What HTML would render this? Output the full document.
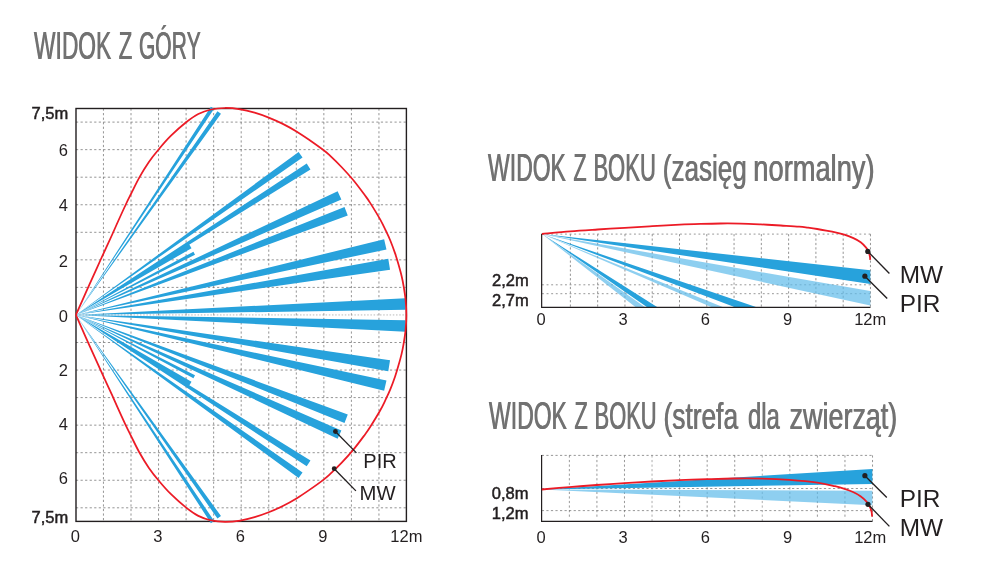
<!DOCTYPE html>
<html lang="pl">
<head>
<meta charset="utf-8">
<title>Widok z góry / Widok z boku</title>
<style>
html,body{margin:0;padding:0;background:#fff;}
body{width:994px;height:571px;overflow:hidden;font-family:"Liberation Sans",sans-serif;}
svg{display:block;will-change:transform;}
</style>
</head>
<body>
<svg width="994" height="571" viewBox="0 0 994 571">
<g id="top-view">
<path d="M103.45,108.5 V521.4 M131,108.5 V521.4 M158.55,108.5 V521.4 M186.1,108.5 V521.4 M213.65,108.5 V521.4 M241.2,108.5 V521.4 M268.75,108.5 V521.4 M296.3,108.5 V521.4 M323.85,108.5 V521.4 M351.4,108.5 V521.4 M378.95,108.5 V521.4 M76,287.4 H406.4 M76,342.5 H406.4 M76,259.85 H406.4 M76,370.05 H406.4 M76,232.3 H406.4 M76,397.6 H406.4 M76,204.75 H406.4 M76,425.15 H406.4 M76,177.2 H406.4 M76,452.7 H406.4 M76,149.65 H406.4 M76,480.25 H406.4 M76,122.1 H406.4 M76,507.8 H406.4" fill="none" stroke="#707070" stroke-width="0.75" stroke-dasharray="2.2 2.35"/>
<path d="M76,314.95 H406.4" fill="none" stroke="#a8a8a8" stroke-width="0.8" stroke-dasharray="1.5 1.7"/>
<rect x="76" y="108.5" width="330.4" height="412.9" fill="none" stroke="#231f20" stroke-width="1.4"/>
<path d="M75.9,314.95 L214.15,108.82 L210.9,106.67 Z M75.9,314.95 L220.97,113.81 L217.44,111.3 Z M75.9,314.95 L302.54,157.43 L298.62,151.94 Z M75.9,314.95 L310.47,169.51 L306.71,163.62 Z M75.9,314.95 L191.51,248.2 L189.3,244.5 Z M75.9,314.95 L195.01,254.65 L193.44,251.66 Z M75.9,314.95 L341.39,199.51 L337.63,191.23 Z M75.9,314.95 L347.77,215.46 L344.51,206.97 Z M75.9,314.95 L386.48,249.5 L384.14,239.24 Z M75.9,314.95 L390.05,269.68 L388.28,258.74 Z M75.9,314.95 L405.5,309.77 L405.5,298.25 Z M75.9,314.95 L214.15,521.08 L210.9,523.23 Z M75.9,314.95 L220.97,516.09 L217.44,518.6 Z M75.9,314.95 L302.54,472.47 L298.62,477.96 Z M75.9,314.95 L310.47,460.39 L306.71,466.28 Z M75.9,314.95 L191.51,381.7 L189.3,385.4 Z M75.9,314.95 L195.01,375.25 L193.44,378.24 Z M75.9,314.95 L341.39,430.39 L337.63,438.67 Z M75.9,314.95 L347.77,414.44 L344.51,422.93 Z M75.9,314.95 L386.48,380.4 L384.14,390.66 Z M75.9,314.95 L390.05,360.22 L388.28,371.16 Z M75.9,314.95 L405.5,320.13 L405.5,331.65 Z" fill="#27a2dc"/>
<path d="M75.9,314.95 C77.55,311.23 82.4,300.21 85.8,292.6 C89.2,284.99 93.3,275.93 96.3,269.3 C99.3,262.67 101.18,258.52 103.8,252.8 C106.42,247.08 109.63,240.22 112,235 C114.37,229.78 115.7,226.58 118,221.5 C120.3,216.42 123.63,209.08 125.8,204.5 C127.97,199.92 128.73,198.52 131,194 C133.27,189.48 136.42,182.73 139.4,177.4 C142.38,172.07 145.67,166.7 148.9,162 C152.13,157.3 155.12,153.58 158.8,149.2 C162.48,144.82 166.45,140.18 171,135.7 C175.55,131.22 181.55,125.92 186.1,122.3 C190.65,118.68 194.15,116.13 198.3,114 C202.45,111.87 206.55,110.5 211,109.5 C215.45,108.5 220.12,108.03 225,108 C229.88,107.97 235.37,108.52 240.3,109.3 C245.23,110.08 249.87,111.32 254.6,112.7 C259.33,114.08 264,115.73 268.7,117.6 C273.4,119.47 278.1,121.55 282.8,123.9 C287.5,126.25 292.47,129.02 296.9,131.7 C301.33,134.38 304.93,136.9 309.4,140 C313.87,143.1 320.27,147.68 323.7,150.3 C327.13,152.92 327.03,152.92 330,155.7 C332.97,158.48 337.63,162.95 341.5,167 C345.37,171.05 349.33,175.33 353.2,180 C357.07,184.67 361.9,191.23 364.7,195 C367.5,198.77 367.45,198.58 370,202.6 C372.55,206.62 377.42,214.53 380,219.1 C382.58,223.67 383.78,226.43 385.5,230 C387.22,233.57 388.7,236.6 390.3,240.5 C391.9,244.4 393.77,249.52 395.1,253.4 C396.43,257.28 397.22,260.03 398.3,263.8 C399.38,267.57 400.72,272.3 401.6,276 C402.48,279.7 402.93,282 403.6,286 C404.27,290 405.13,295.18 405.6,300 C406.07,304.82 406.4,309.97 406.4,314.95 C406.4,319.93 406.07,325.07 405.6,329.9 C405.13,334.72 404.27,339.9 403.6,343.9 C402.93,347.9 402.48,350.2 401.6,353.9 C400.72,357.6 399.38,362.33 398.3,366.1 C397.22,369.87 396.43,372.62 395.1,376.5 C393.77,380.38 391.9,385.5 390.3,389.4 C388.7,393.3 387.22,396.33 385.5,399.9 C383.78,403.47 382.58,406.23 380,410.8 C377.42,415.37 372.55,423.28 370,427.3 C367.45,431.32 367.5,431.13 364.7,434.9 C361.9,438.67 357.07,445.23 353.2,449.9 C349.33,454.57 345.37,458.85 341.5,462.9 C337.63,466.95 332.97,471.42 330,474.2 C327.03,476.98 327.13,476.98 323.7,479.6 C320.27,482.22 313.87,486.8 309.4,489.9 C304.93,493 301.33,495.52 296.9,498.2 C292.47,500.88 287.5,503.65 282.8,506 C278.1,508.35 273.4,510.43 268.7,512.3 C264,514.17 259.33,515.82 254.6,517.2 C249.87,518.58 245.23,519.82 240.3,520.6 C235.37,521.38 229.88,521.93 225,521.9 C220.12,521.87 215.45,521.4 211,520.4 C206.55,519.4 202.45,518.03 198.3,515.9 C194.15,513.77 190.65,511.22 186.1,507.6 C181.55,503.98 175.55,498.68 171,494.2 C166.45,489.72 162.48,485.08 158.8,480.7 C155.12,476.32 152.13,472.6 148.9,467.9 C145.67,463.2 142.38,457.83 139.4,452.5 C136.42,447.17 133.27,440.42 131,435.9 C128.73,431.38 127.97,429.98 125.8,425.4 C123.63,420.82 120.3,413.48 118,408.4 C115.7,403.32 114.37,400.12 112,394.9 C109.63,389.68 106.42,382.82 103.8,377.1 C101.18,371.38 99.3,367.23 96.3,360.6 C93.3,353.97 89.2,344.91 85.8,337.3 C82.4,329.69 77.55,318.67 75.9,314.95" fill="none" stroke="#ec1b26" stroke-width="1.75" stroke-linejoin="round"/>
<path d="M335.4,431.5 L356.4,452.9" stroke="#231f20" stroke-width="1.35" fill="none"/>
<circle cx="335.4" cy="431.5" r="2.4" fill="#231f20"/>
<path d="M334.2,468.7 L355.9,490.9" stroke="#231f20" stroke-width="1.35" fill="none"/>
<circle cx="334.2" cy="468.7" r="2.4" fill="#231f20"/>
</g>
<g id="side-normal">
<path d="M570.38,234.1 V307.1 M597.66,234.1 V307.1 M624.94,234.1 V307.1 M652.22,234.1 V307.1 M679.5,234.1 V307.1 M706.78,234.1 V307.1 M734.06,234.1 V307.1 M761.34,234.1 V307.1 M788.62,234.1 V307.1 M815.9,234.1 V307.1 M843.18,234.1 V307.1 M870.46,234.1 V307.1" fill="none" stroke="#707070" stroke-width="0.75" stroke-dasharray="2.2 2.2"/>
<path d="M542,234.1 H870.46 M542,284.8 H870.46 M542,293.7 H870.46" fill="none" stroke="#8c8c8c" stroke-width="0.9" stroke-dasharray="1.9 2.7"/>
<path d="M542,234.1 L635.4,307.1 L644.8,307.1 Z M542,234.1 L711.2,307.1 L722.8,307.1 Z M542,234.1 L870.3,291.1 L870.3,305.4 Z" fill="#5ebaea" fill-opacity="0.7"/>
<path d="M542,234.1 L646.8,307.1 L657.1,307.1 Z M542,234.1 L734.4,307.1 L756,307.1 Z M542,234.1 L870.3,270.2 L870.3,283.9 Z" fill="#27a2dc"/>
<path d="M541.65,233.8 V307.35 H870.46" fill="none" stroke="#231f20" stroke-width="1.2"/>
<path d="M542,234 C546.7,233.57 560.93,232.15 570.2,231.4 C579.47,230.65 588.51,230.1 597.6,229.5 C606.69,228.9 615.63,228.35 624.75,227.8 C633.87,227.25 643.09,226.72 652.3,226.2 C661.51,225.68 671.98,225.07 680,224.7 C688.02,224.32 693.65,224.15 700.4,223.95 C707.15,223.75 713.8,223.56 720.5,223.5 C727.2,223.44 733.9,223.45 740.6,223.6 C747.3,223.75 754,224.08 760.7,224.4 C767.4,224.72 774.4,225.13 780.8,225.5 C787.2,225.87 794.55,226.23 799.1,226.6 C803.65,226.97 805.08,227.3 808.1,227.7 C811.12,228.1 814.18,228.52 817.2,229 C820.22,229.48 823.18,230.03 826.2,230.6 C829.22,231.17 832.28,231.72 835.3,232.4 C838.32,233.08 841.28,233.75 844.3,234.7 C847.32,235.65 850.67,236.85 853.4,238.1 C856.13,239.35 858.58,240.62 860.7,242.2 C862.82,243.78 864.75,245.95 866.1,247.6 C867.45,249.25 868.17,250.58 868.8,252.1 C869.43,253.62 869.67,255.42 869.9,256.7 C870.13,257.98 870.15,259.28 870.2,259.8" fill="none" stroke="#ec1b26" stroke-width="1.8"/>
<path d="M867.8,251.4 L889.4,273.5" stroke="#231f20" stroke-width="1.35" fill="none"/>
<circle cx="867.8" cy="251.4" r="2.6" fill="#231f20"/>
<path d="M864.9,276.2 L887.2,298.6" stroke="#231f20" stroke-width="1.35" fill="none"/>
<circle cx="864.9" cy="276.2" r="2.6" fill="#231f20"/>
</g>
<g id="side-pet">
<path d="M569.36,455.4 V518.8 M596.92,455.4 V518.8 M624.48,455.4 V518.8 M679.6,455.4 V518.8 M707.16,455.4 V518.8 M734.72,455.4 V518.8 M789.84,455.4 V518.8 M817.4,455.4 V518.8 M844.96,455.4 V518.8 M872.52,455.4 V521.1 M541.8,455.4 H872.52 M541.8,488.5 H872.52 M541.8,510.6 H872.52" fill="none" stroke="#707070" stroke-width="0.72" stroke-dasharray="2.2 2.35"/>
<path d="M652.04,455.4 V522.6 M762.28,455.4 V522.6" fill="none" stroke="#8e8e8e" stroke-width="0.72" stroke-dasharray="2.2 2.35"/>
<path d="M541.8,489.4 L872.32,490.8 L872.32,505.2 Z" fill="#5ebaea" fill-opacity="0.7"/>
<path d="M541.8,489.4 L872.32,469 L872.32,484 Z" fill="#27a2dc"/>
<path d="M541.6,455.1 V521.3 H872.52" fill="none" stroke="#231f20" stroke-width="1.2"/>
<path d="M541.8,489.5 C546.38,489.1 560.15,487.85 569.3,487.1 C578.45,486.35 587.48,485.67 596.7,485 C605.92,484.33 615.4,483.68 624.6,483.1 C633.8,482.52 642.77,481.98 651.9,481.5 C661.03,481.02 670.22,480.58 679.4,480.2 C688.58,479.82 697.83,479.48 707,479.2 C716.17,478.92 725.23,478.6 734.4,478.5 C743.57,478.4 752.8,478.37 762,478.6 C771.2,478.83 780.38,479.23 789.6,479.9 C798.82,480.57 809.73,481.55 817.3,482.6 C824.87,483.65 830.47,485.17 835,486.2 C839.53,487.23 841.5,487.83 844.5,488.8 C847.5,489.77 850.33,490.77 853,492 C855.67,493.23 858.25,494.6 860.5,496.2 C862.75,497.8 864.92,499.77 866.5,501.6 C868.08,503.43 869.15,505.5 870,507.2 C870.85,508.9 871.25,510.23 871.6,511.8 C871.95,513.37 872.02,515.8 872.1,516.6" fill="none" stroke="#ec1b26" stroke-width="1.8"/>
<path d="M864.9,475.7 L886.8,497.5" stroke="#231f20" stroke-width="1.35" fill="none"/>
<circle cx="864.9" cy="475.7" r="2.6" fill="#231f20"/>
<path d="M868,504.3 L889.4,526.4" stroke="#231f20" stroke-width="1.35" fill="none"/>
<circle cx="868" cy="504.3" r="2.6" fill="#231f20"/>
</g>
<g id="labels" font-family="'Liberation Sans', sans-serif" fill="#231f20">
<text x="68.2" y="118.8" font-size="16.5" text-anchor="end" stroke="#231f20" stroke-width="0.5">7,5m</text>
<text x="68.2" y="522.9" font-size="16.5" text-anchor="end" stroke="#231f20" stroke-width="0.5">7,5m</text>
<text x="67.9" y="155.7" font-size="16.5" text-anchor="end">6</text>
<text x="67.9" y="211" font-size="16.5" text-anchor="end">4</text>
<text x="67.9" y="266.9" font-size="16.5" text-anchor="end">2</text>
<text x="67.9" y="322.3" font-size="16.5" text-anchor="end">0</text>
<text x="67.9" y="376.2" font-size="16.5" text-anchor="end">2</text>
<text x="67.9" y="430" font-size="16.5" text-anchor="end">4</text>
<text x="67.9" y="483.6" font-size="16.5" text-anchor="end">6</text>
<text x="75.4" y="542.2" font-size="16.5" text-anchor="middle">0</text>
<text x="157.9" y="542.2" font-size="16.5" text-anchor="middle">3</text>
<text x="240.4" y="542.2" font-size="16.5" text-anchor="middle">6</text>
<text x="322.9" y="542.2" font-size="16.5" text-anchor="middle">9</text>
<text x="390.3" y="542.2" font-size="16.5" text-anchor="start">12m</text>
<text x="363.3" y="467.8" font-size="20" text-anchor="start">PIR</text>
<text x="359.6" y="500.3" font-size="20.3" text-anchor="start">MW</text>
<text x="528.7" y="285.8" font-size="16.5" text-anchor="end" stroke="#231f20" stroke-width="0.5">2,2m</text>
<text x="528.7" y="305.8" font-size="16.5" text-anchor="end" stroke="#231f20" stroke-width="0.5">2,7m</text>
<text x="541" y="324.7" font-size="16.5" text-anchor="middle">0</text>
<text x="623.2" y="324.7" font-size="16.5" text-anchor="middle">3</text>
<text x="705.4" y="324.7" font-size="16.5" text-anchor="middle">6</text>
<text x="787.6" y="324.7" font-size="16.5" text-anchor="middle">9</text>
<text x="854.2" y="324.7" font-size="16.5" text-anchor="start">12m</text>
<text x="899.8" y="282.6" font-size="24.4" text-anchor="start">MW</text>
<text x="899.8" y="312.4" font-size="24.4" text-anchor="start">PIR</text>
<text x="528.4" y="498.6" font-size="16.5" text-anchor="end" stroke="#231f20" stroke-width="0.5">0,8m</text>
<text x="528.4" y="519.2" font-size="16.5" text-anchor="end" stroke="#231f20" stroke-width="0.5">1,2m</text>
<text x="541" y="542.8" font-size="16.5" text-anchor="middle">0</text>
<text x="623.2" y="542.8" font-size="16.5" text-anchor="middle">3</text>
<text x="705.4" y="542.8" font-size="16.5" text-anchor="middle">6</text>
<text x="787.6" y="542.8" font-size="16.5" text-anchor="middle">9</text>
<text x="854.2" y="542.8" font-size="16.5" text-anchor="start">12m</text>
<text x="899.8" y="506.7" font-size="24.4" text-anchor="start">PIR</text>
<text x="899.8" y="535.8" font-size="24.4" text-anchor="start">MW</text>
</g>
<g id="titles" transform="translate(-0.25,0)" font-family="'Liberation Sans', sans-serif" fill="#727272" stroke="#727272" stroke-width="0.15" font-size="39.2" style="font-kerning:none">
<text transform="translate(34.1,59.1) scale(0.5808,1)">WIDOK</text>
<text transform="translate(118.7,59.1) scale(0.5634,1)">Z</text>
<text transform="translate(139.05,59.1) scale(0.5346,1)">GÓRY</text>
<text transform="translate(488.1,180.8) scale(0.5854,1)">WIDOK</text>
<text transform="translate(573.42,180.8) scale(0.5448,1)">Z</text>
<text transform="translate(593.39,180.8) scale(0.5627,1)">BOKU</text>
<text transform="translate(662.68,180.8) scale(0.7176,1)" font-size="36.4">(zasięg</text>
<text transform="translate(753.29,180.8) scale(0.7496,1)" font-size="36.4">normalny)</text>
<text transform="translate(489.1,429.2) scale(0.5854,1)">WIDOK</text>
<text transform="translate(574.41,429.2) scale(0.5541,1)">Z</text>
<text transform="translate(594.61,429.2) scale(0.5579,1)">BOKU</text>
<text transform="translate(663.47,429.2) scale(0.7235,1)" font-size="36.4">(strefa</text>
<text transform="translate(748,429.2) scale(0.6547,1)" font-size="36.4">dla</text>
<text transform="translate(789.51,429.2) scale(0.7407,1)" font-size="36.4">zwierząt)</text>
</g>
<use href="#titles" x="0.5" aria-hidden="true"/>
</svg>
</body>
</html>
